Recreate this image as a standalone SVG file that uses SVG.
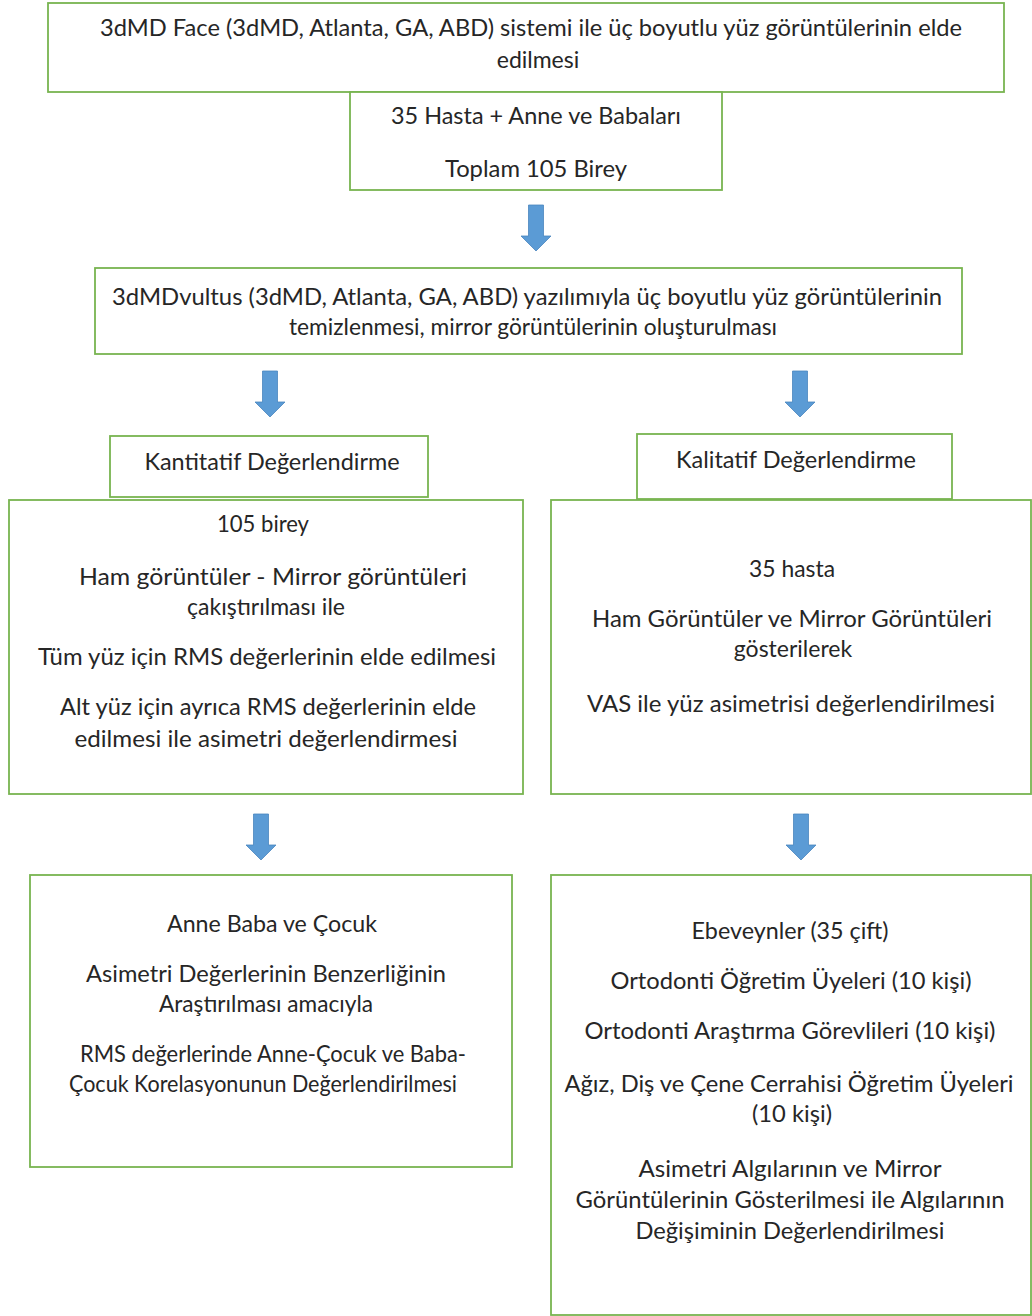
<svg xmlns="http://www.w3.org/2000/svg" width="1032" height="1316" viewBox="0 0 1032 1316">
<style>
  .box { fill: #ffffff; stroke: #78B450; stroke-width: 1.8; }
  .t { font-family: Lato, "Open Sans", "DejaVu Sans", sans-serif; font-size: 23px; fill: #262626; text-anchor: middle; }
  .arrow { fill: #5B9BD5; stroke: #4A85BE; stroke-width: 0.8; }
</style>
<defs>
  <path id="dnArrow" class="arrow" d="M-7.5,0 H7.5 V31 H15 L0,46 L-15,31 H-7.5 Z"/>
</defs>
<rect width="1032" height="1316" fill="#ffffff"/>

<g id="connectors">
  <use href="#dnArrow" x="536" y="205"/>
  <use href="#dnArrow" x="270" y="371"/>
  <use href="#dnArrow" x="800" y="371"/>
  <use href="#dnArrow" x="261" y="814"/>
  <use href="#dnArrow" x="801" y="814"/>
</g>

<g id="node-top">
  <rect class="box" x="48" y="3" width="956" height="89"/>
  <text class="t" x="531" y="36" textLength="862" lengthAdjust="spacingAndGlyphs">3dMD Face (3dMD, Atlanta, GA, ABD) sistemi ile üç boyutlu yüz görüntülerinin elde</text>
  <text class="t" x="538" y="68">edilmesi</text>
</g>

<g id="node-sample">
  <rect class="box" x="350" y="92" width="372" height="98"/>
  <text class="t" x="536" y="124" textLength="290" lengthAdjust="spacingAndGlyphs">35 Hasta + Anne ve Babaları</text>
  <text class="t" x="536" y="177" textLength="182" lengthAdjust="spacingAndGlyphs">Toplam 105 Birey</text>
</g>

<g id="node-vultus">
  <rect class="box" x="95" y="268" width="867" height="86"/>
  <text class="t" x="527" y="305" textLength="830" lengthAdjust="spacingAndGlyphs">3dMDvultus (3dMD, Atlanta, GA, ABD) yazılımıyla üç boyutlu yüz görüntülerinin</text>
  <text class="t" x="533" y="335" textLength="488" lengthAdjust="spacingAndGlyphs">temizlenmesi, mirror görüntülerinin oluşturulması</text>
</g>

<g id="node-kantitatif">
  <rect class="box" x="110" y="436" width="318" height="61"/>
  <text class="t" x="272" y="470" textLength="255" lengthAdjust="spacingAndGlyphs">Kantitatif Değerlendirme</text>
</g>

<g id="node-kalitatif">
  <rect class="box" x="637" y="434" width="315" height="65"/>
  <text class="t" x="796" y="468" textLength="240" lengthAdjust="spacingAndGlyphs">Kalitatif Değerlendirme</text>
</g>

<g id="node-quant-detail">
  <rect class="box" x="9" y="500" width="514" height="294"/>
  <text class="t" x="263" y="532" textLength="92" lengthAdjust="spacingAndGlyphs">105 birey</text>
  <text class="t" x="273" y="585" textLength="388" lengthAdjust="spacingAndGlyphs">Ham görüntüler - Mirror görüntüleri</text>
  <text class="t" x="266" y="615">çakıştırılması ile</text>
  <text class="t" x="267" y="665" textLength="458" lengthAdjust="spacingAndGlyphs">Tüm yüz için RMS değerlerinin elde edilmesi</text>
  <text class="t" x="268" y="715" textLength="416" lengthAdjust="spacingAndGlyphs">Alt yüz için ayrıca RMS değerlerinin elde</text>
  <text class="t" x="266" y="747" textLength="383" lengthAdjust="spacingAndGlyphs">edilmesi ile asimetri değerlendirmesi</text>
</g>

<g id="node-qual-detail">
  <rect class="box" x="551" y="500" width="480" height="294"/>
  <text class="t" x="792" y="577" textLength="86" lengthAdjust="spacingAndGlyphs">35 hasta</text>
  <text class="t" x="792" y="627" textLength="400" lengthAdjust="spacingAndGlyphs">Ham Görüntüler ve Mirror Görüntüleri</text>
  <text class="t" x="793" y="657">gösterilerek</text>
  <text class="t" x="791" y="712" textLength="408" lengthAdjust="spacingAndGlyphs">VAS ile yüz asimetrisi değerlendirilmesi</text>
</g>

<g id="node-quant-result">
  <rect class="box" x="30" y="875" width="482" height="292"/>
  <text class="t" x="272" y="932" textLength="210" lengthAdjust="spacingAndGlyphs">Anne Baba ve Çocuk</text>
  <text class="t" x="266" y="982" textLength="360" lengthAdjust="spacingAndGlyphs">Asimetri Değerlerinin Benzerliğinin</text>
  <text class="t" x="266" y="1012" textLength="214" lengthAdjust="spacingAndGlyphs">Araştırılması amacıyla</text>
  <text class="t" x="273" y="1062" textLength="386" lengthAdjust="spacingAndGlyphs">RMS değerlerinde Anne-Çocuk ve Baba-</text>
  <text class="t" x="263" y="1092" textLength="388" lengthAdjust="spacingAndGlyphs">Çocuk Korelasyonunun Değerlendirilmesi</text>
</g>

<g id="node-qual-result">
  <rect class="box" x="551" y="875" width="480" height="440"/>
  <text class="t" x="790" y="939" textLength="197" lengthAdjust="spacingAndGlyphs">Ebeveynler (35 çift)</text>
  <text class="t" x="791" y="989" textLength="361" lengthAdjust="spacingAndGlyphs">Ortodonti Öğretim Üyeleri (10 kişi)</text>
  <text class="t" x="790" y="1039" textLength="411" lengthAdjust="spacingAndGlyphs">Ortodonti Araştırma Görevlileri (10 kişi)</text>
  <text class="t" x="789" y="1092" textLength="449" lengthAdjust="spacingAndGlyphs">Ağız, Diş ve Çene Cerrahisi Öğretim Üyeleri</text>
  <text class="t" x="792" y="1122" textLength="80" lengthAdjust="spacingAndGlyphs">(10 kişi)</text>
  <text class="t" x="790" y="1177" textLength="303" lengthAdjust="spacingAndGlyphs">Asimetri Algılarının ve Mirror</text>
  <text class="t" x="790" y="1208" textLength="429" lengthAdjust="spacingAndGlyphs">Görüntülerinin Gösterilmesi ile Algılarının</text>
  <text class="t" x="790" y="1239" textLength="309" lengthAdjust="spacingAndGlyphs">Değişiminin Değerlendirilmesi</text>
</g>
</svg>
